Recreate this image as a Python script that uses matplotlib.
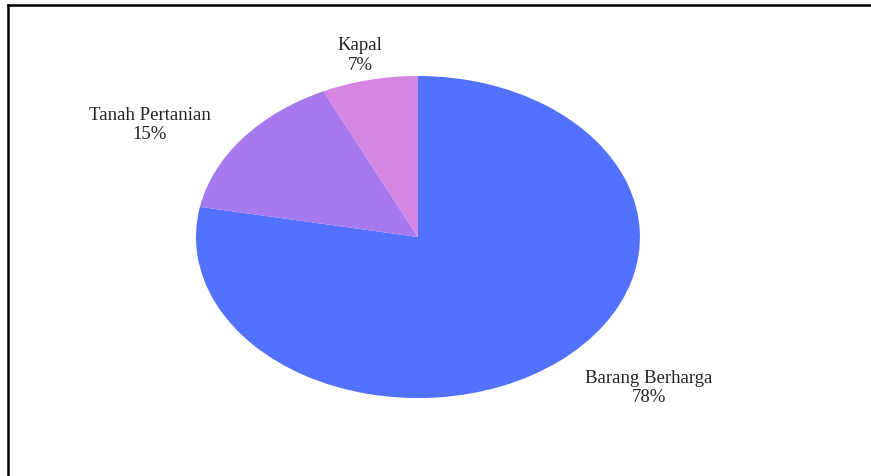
import matplotlib
matplotlib.use("Agg")
import matplotlib.pyplot as plt
from matplotlib.lines import Line2D

categories = ["Barang Berharga", "Tanah Pertanian", "Kapal"]
values = [78, 15, 7]
colors = ["#5271FF", "#A679EE", "#D486E2"]

# label anchor points (pie units)
label_pos = [(1.04, -0.932), (-1.207, 0.702), (-0.26, 1.135)]

fig = plt.figure(figsize=(8.71, 4.77), dpi=100)
ax = fig.add_axes([0, 0, 1, 1])

wedges, _ = ax.pie(values, colors=colors, startangle=90, counterclock=False,
                   radius=1, wedgeprops=dict(linewidth=0))

# stretch the pie into an ellipse
ax.set_aspect("auto")
ax.set_xlim(-1.883, 2.041)
ax.set_ylim(-1.484, 1.478)
ax.axis("off")

total = sum(values)
for name, v, (lx, ly) in zip(categories, values, label_pos):
    ax.text(lx, ly, "%s\n%d%%" % (name, round(v * 100 / total)),
            ha="center", va="center", fontsize=13.5, linespacing=1.2,
            family="Liberation Serif", color="#222222")

# frame on left and top
fig.add_artist(Line2D([7.5 / 871, 7.5 / 871], [0, 1 - 5.5 / 477],
                      transform=fig.transFigure, color="black", lw=1.8,
                      solid_capstyle="projecting"))
fig.add_artist(Line2D([7.5 / 871, 1], [1 - 5.5 / 477, 1 - 5.5 / 477],
                      transform=fig.transFigure, color="black", lw=1.8,
                      solid_capstyle="projecting"))

fig.savefig("out.png", dpi=100)
